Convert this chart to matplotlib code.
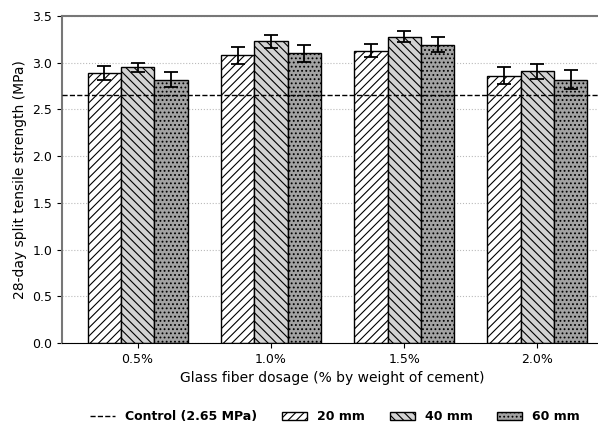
import matplotlib
matplotlib.use("Agg")
import matplotlib.pyplot as plt
import numpy as np

# Data
dosages = ["0.5%", "1.0%", "1.5%", "2.0%"]
lengths = ["20 mm", "40 mm", "60 mm"]
strength_20 = [2.89, 3.08, 3.13, 2.86]
strength_40 = [2.95, 3.23, 3.28, 2.91]
strength_60 = [2.82, 3.10, 3.19, 2.82]
err_20 = [0.07, 0.09, 0.07, 0.09]
err_40 = [0.05, 0.07, 0.06, 0.08]
err_60 = [0.08, 0.09, 0.08, 0.10]
control = 2.65

plt.rcParams['hatch.linewidth'] = 0.8

fig = plt.figure(figsize=(5.98, 4.26), dpi=100)
ax = fig.add_axes([62 / 598, 83 / 426, 540 / 598, 327 / 426])

x = np.arange(len(dosages))
w = 0.25
styles = [("white", "////"), ("#d3d3d3", "\\\\\\\\"), ("#a3a3a3", "....")]
series = [(strength_20, err_20), (strength_40, err_40), (strength_60, err_60)]

ax.set_axisbelow(True)
ax.yaxis.grid(True, linestyle=':', color='#bbbbbb', linewidth=0.8)

for i, ((vals, errs), (fc, hatch), lab) in enumerate(zip(series, styles, lengths)):
    ax.bar(x + (i - 1) * w, vals, w, color=fc, hatch=hatch, edgecolor='black',
           linewidth=1.0, label=lab, yerr=errs, capsize=5,
           error_kw=dict(ecolor='black', elinewidth=1.3, capthick=1.3))

# control line is drawn over the bars
ax.axhline(control, color='black', linestyle='--', linewidth=1.0,
           label=f"Control ({control:.2f} MPa)", zorder=3)

ax.set_xlim(-0.567, 3.484)
ax.set_ylim(0, 3.5)
ax.set_yticks(np.arange(0, 3.51, 0.5))
ax.set_xticks(x)
ax.set_xticklabels(dosages, fontsize=9)
ax.tick_params(axis='y', labelsize=9)
ax.set_xlabel("Glass fiber dosage (% by weight of cement)", fontsize=10)
ax.set_ylabel("28-day split tensile strength (MPa)", fontsize=10)

ax.spines['right'].set_visible(False)
ax.spines['top'].set_color('#777777')
ax.spines['left'].set_color('#777777')
ax.spines['top'].set_linewidth(1.5)
ax.spines['left'].set_linewidth(1.5)

handles, labels = ax.get_legend_handles_labels()
fig.legend(handles, labels,
           loc='lower center', bbox_to_anchor=(0.56, -0.02), ncol=4, frameon=False,
           prop={'weight': 'bold', 'size': 9}, handlelength=2.0, columnspacing=2.0)

fig.savefig("out.png", dpi=100)
